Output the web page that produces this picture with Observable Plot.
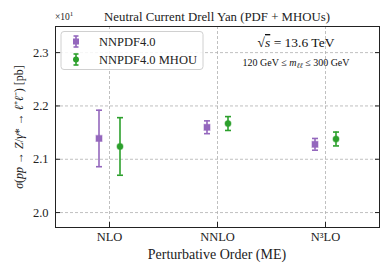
<!DOCTYPE html>
<html><head><meta charset="utf-8">
<script src="https://cdn.jsdelivr.net/npm/d3@7"></script>
<script src="https://cdn.jsdelivr.net/npm/@observablehq/plot@0.6"></script>
<style>
body{margin:0;background:#fff;}
#wrap{position:relative;width:390px;height:273px;}
svg text{font-family:"Liberation Serif",serif;}
</style></head><body><div id="wrap"></div>
<script>
const orders = ["NLO", "NNLO", "N³LO"];
const pdfCentral = [2.139, 2.160, 2.128];
const pdfErr = [0.053, 0.012, 0.011];
const mhouCentral = [2.124, 2.167, 2.138];
const mhouErr = [0.054, 0.013, 0.013];
const yTicks = [2.0, 2.1, 2.2, 2.3];
const seriesNames = ["NNPDF4.0", "NNPDF4.0 MHOU"];
const seriesColors = ["#9467bd", "#2ca02c"];

const pdf = orders.map((o, i) => ({order: o, y: pdfCentral[i], lo: pdfCentral[i] - pdfErr[i], hi: pdfCentral[i] + pdfErr[i]}));
const mhou = orders.map((o, i) => ({order: o, y: mhouCentral[i], lo: mhouCentral[i] - mhouErr[i], hi: mhouCentral[i] + mhouErr[i]}));

const cap = {draw(ctx, size) { const w = Math.sqrt(size / Math.PI); ctx.moveTo(-w, 0); ctx.lineTo(w, 0); }};

function errorMarks(data, color, dx, symbol) {
  return [
    Plot.ruleX(data, {x: "order", y1: "lo", y2: "hi", stroke: color, strokeWidth: 1.6, dx}),
    Plot.dot(data, {x: "order", y: "lo", symbol: cap, r: 3, stroke: color, strokeWidth: 1.6, dx}),
    Plot.dot(data, {x: "order", y: "hi", symbol: cap, r: 3, stroke: color, strokeWidth: 1.6, dx}),
    Plot.dot(data, {x: "order", y: "y", symbol, r: symbol === "square" ? 3.4 : 3, fill: color, stroke: color, strokeOpacity: 0.45, strokeWidth: 1.2, dx})
  ];
}

const plot = Plot.plot({
  width: 390, height: 273,
  marginLeft: 55, marginRight: 11, marginTop: 26, marginBottom: 46,
  style: {fontFamily: "Liberation Serif, serif", fontSize: "12.5px", color: "#222", background: "#fff"},
  x: {type: "point", domain: orders, padding: 0.5},
  y: {domain: [1.972, 2.349]},
  marks: [
    Plot.gridX(orders, {stroke: "#b0b0b0", strokeOpacity: 1, strokeDasharray: "3,2", strokeWidth: 0.8}),
    Plot.gridY(yTicks, {stroke: "#b0b0b0", strokeOpacity: 1, strokeDasharray: "3,2", strokeWidth: 0.8}),
    Plot.axisY(yTicks, {anchor: "left", tickSize: 0, tickPadding: 7, tickFormat: d => d.toFixed(1), label: null, fill: "#222"}),
    Plot.axisY(yTicks, {anchor: "left", tickSize: -5, tickFormat: () => "", label: null, stroke: "#222"}),
    Plot.axisY(yTicks, {anchor: "right", tickSize: -5, tickFormat: () => "", label: null, stroke: "#222"}),
    Plot.axisX(orders, {anchor: "bottom", tickSize: 0, tickPadding: 5, label: null, fill: "#222"}),
    Plot.axisX(orders, {anchor: "bottom", tickSize: -5, tickFormat: () => "", label: null, stroke: "#222"}),
    ...errorMarks(pdf, seriesColors[0], -10.5, "square"),
    ...errorMarks(mhou, seriesColors[1], 10.5, "circle"),
    Plot.frame({stroke: "#222", strokeWidth: 1})
  ]
});
document.getElementById("wrap").appendChild(plot);

const svg = d3.select(plot);
// title
svg.append("text").attr("x", 217).attr("y", 21).attr("text-anchor", "middle")
  .style("font-size", "12.8px").attr("fill", "#222").text("Neutral Current Drell Yan (PDF + MHOUs)");
// multiplier
const mult = svg.append("text").attr("x", 55).attr("y", 20).attr("text-anchor", "start").style("font-size", "9.5px").attr("fill", "#222");
mult.append("tspan").text("×10");
mult.append("tspan").attr("dy", -4).style("font-size", "7px").text("1");
// y label
const yl = svg.append("text").attr("transform", "translate(23,127) rotate(-90)").attr("text-anchor", "middle")
  .style("font-size", "12px").attr("fill", "#222");
yl.append("tspan").style("font-style", "italic").text("σ");
yl.append("tspan").text("(");
yl.append("tspan").style("font-style", "italic").text("pp");
yl.append("tspan").text(" → ");
yl.append("tspan").style("font-style", "italic").text("Z");
yl.append("tspan").text("/");
yl.append("tspan").style("font-style", "italic").text("γ");
yl.append("tspan").text("* → ");
yl.append("tspan").style("font-style", "italic").text("ℓ");
yl.append("tspan").text("⁺");
yl.append("tspan").style("font-style", "italic").text("ℓ");
yl.append("tspan").text("⁻) [pb]");
// x label
svg.append("text").attr("x", 217).attr("y", 259).attr("text-anchor", "middle")
  .style("font-size", "14px").attr("fill", "#222").text("Perturbative Order (ME)");
// annotations
const a1 = svg.append("text").attr("x", 296).attr("y", 47).attr("text-anchor", "middle").style("font-size", "13.5px").attr("fill", "#111");
a1.append("tspan").text("√");
a1.append("tspan").style("font-style", "italic").style("text-decoration", "overline").text("s");
a1.append("tspan").text(" = 13.6 TeV");
const a2 = svg.append("text").attr("x", 296).attr("y", 66).attr("text-anchor", "middle").style("font-size", "10px").attr("fill", "#111");
a2.append("tspan").text("120 GeV ≤ ");
a2.append("tspan").style("font-style", "italic").text("m");
a2.append("tspan").attr("dy", 2).style("font-size", "7.5px").style("font-style", "italic").text("ℓℓ");
a2.append("tspan").attr("dy", -2).text(" ≤ 300 GeV");
// legend
const lg = svg.append("g").attr("text-anchor", "start");
lg.append("rect").attr("x", 61).attr("y", 31.5).attr("width", 142).attr("height", 38).attr("rx", 3)
  .attr("fill", "#fff").attr("fill-opacity", 0.85).attr("stroke", "#d0d0d0");
const ly = [41.5, 59.5];
seriesNames.forEach((name, i) => {
  const c = seriesColors[i], y0 = ly[i];
  lg.append("line").attr("x1", 76).attr("x2", 76).attr("y1", y0 - 5.5).attr("y2", y0 + 5.5).attr("stroke", c).attr("stroke-width", 1.6);
  lg.append("line").attr("x1", 73.5).attr("x2", 78.5).attr("y1", y0 - 5.5).attr("y2", y0 - 5.5).attr("stroke", c).attr("stroke-width", 1.6);
  lg.append("line").attr("x1", 73.5).attr("x2", 78.5).attr("y1", y0 + 5.5).attr("y2", y0 + 5.5).attr("stroke", c).attr("stroke-width", 1.6);
  if (i === 0) lg.append("rect").attr("x", 73).attr("y", y0 - 3).attr("width", 6).attr("height", 6).attr("fill", c);
  else lg.append("circle").attr("cx", 76).attr("cy", y0).attr("r", 3).attr("fill", c);
  lg.append("text").attr("x", 99).attr("y", y0 + 4.3).attr("text-anchor", "start").style("font-size", "12.5px").attr("fill", "#222").text(name);
});
</script></body></html>
